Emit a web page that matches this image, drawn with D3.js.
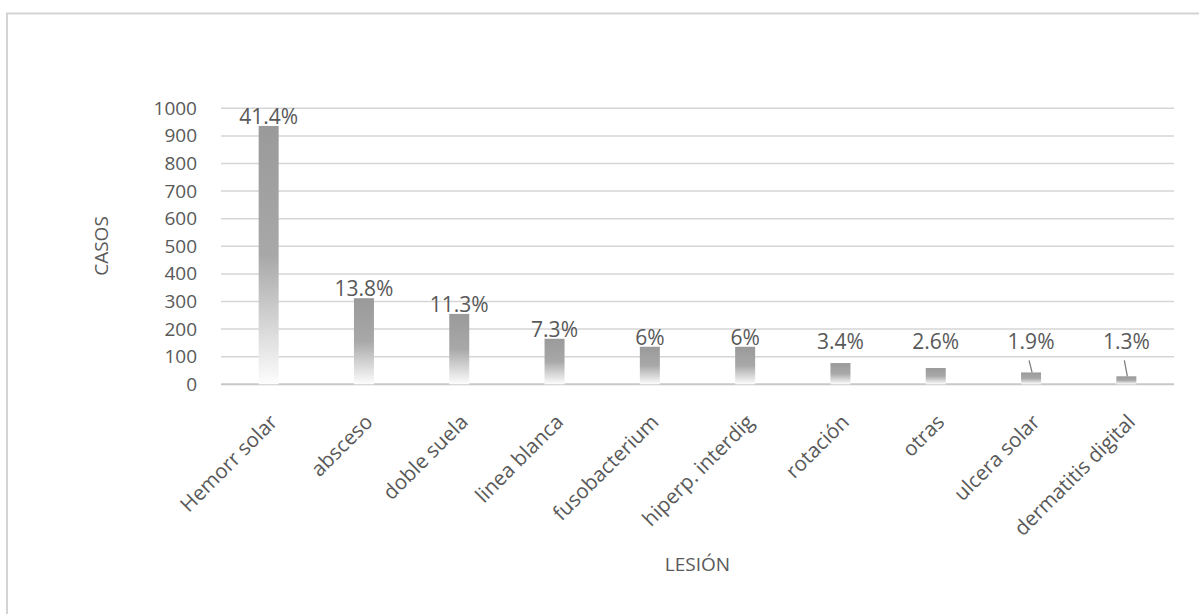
<!DOCTYPE html>
<html>
<head>
<meta charset="utf-8">
<script src="https://cdn.jsdelivr.net/npm/d3@7"></script>
<style>
  html, body { margin: 0; padding: 0; background: #fff; }
  svg { display: block; }
  text { font-family: "Open Sans", "DejaVu Sans", sans-serif; fill: #595959; }
</style>
</head>
<body>
<svg id="chart" width="1199" height="614"></svg>
<script>
// Lesiones podales: casos por tipo de lesión
const categories = ["Hemorr solar", "absceso", "doble suela", "linea blanca", "fusobacterium",
                    "hiperp. interdig", "rotación", "otras", "ulcera solar", "dermatitis digital"];
const casos = [936, 312, 255, 165, 136, 136, 77, 59, 43, 29];
const porcentajes = ["41.4%", "13.8%", "11.3%", "7.3%", "6%", "6%", "3.4%", "2.6%", "1.9%", "1.3%"];
const yTicks = [0, 100, 200, 300, 400, 500, 600, 700, 800, 900, 1000];

const svg = d3.select("#chart");

// chart area frame (top and left edges)
svg.append("path")
  .attr("d", "M7,614 V13.5 H1199")
  .attr("fill", "none")
  .attr("stroke", "#d4d4d4")
  .attr("stroke-width", 2);

const plot = { left: 221, right: 1174, top: 108.3, bottom: 384.3 };

const x = d3.scaleBand().domain(categories).range([plot.left, plot.right]).padding(0);
const y = d3.scaleLinear().domain([0, 1000]).range([plot.bottom, plot.top]);

// bar fill: grey fading to white toward the base
const defs = svg.append("defs");
const grad = defs.append("linearGradient")
  .attr("id", "barFade").attr("x1", 0).attr("y1", 0).attr("x2", 0).attr("y2", 1);
grad.append("stop").attr("offset", "0%").attr("stop-color", "#9a9a9a");
grad.append("stop").attr("offset", "50%").attr("stop-color", "#a8a8a8");
grad.append("stop").attr("offset", "100%").attr("stop-color", "#fdfdfd");

// gridlines
svg.append("g")
  .selectAll("line")
  .data(yTicks)
  .join("line")
  .attr("x1", plot.left).attr("x2", plot.right)
  .attr("y1", d => y(d)).attr("y2", d => y(d))
  .attr("stroke", d => d === 0 ? "#c8c8c8" : "#d6d6d6")
  .attr("stroke-width", d => d === 0 ? 2 : 1.5);

// y axis labels
const yAxis = d3.axisLeft(y).tickValues(yTicks).tickSize(0).tickPadding(0).tickFormat(d3.format("d"));
const gy = svg.append("g").attr("transform", `translate(${plot.left - 24},0)`).call(yAxis);
gy.select(".domain").remove();
gy.selectAll("text")
  .attr("font-size", 19)
  .attr("font-family", "'Open Sans', sans-serif")
  .attr("fill", "#595959");

// bars
const barW = 20;
svg.append("g")
  .selectAll("rect")
  .data(categories)
  .join("rect")
  .attr("x", d => x(d) + x.bandwidth() / 2 - barW / 2)
  .attr("width", barW)
  .attr("y", (d, i) => y(casos[i]))
  .attr("height", (d, i) => y(0) - y(casos[i]))
  .attr("fill", "url(#barFade)");

// percentage labels; small bars get their label lifted with a leader line
const labelFloor = y(0) - 35;
const labels = categories.map((c, i) => {
  const cx = x(c) + x.bandwidth() / 2;
  const top = y(casos[i]);
  const base = Math.min(top - 2, labelFloor);
  return { cx, top, base, text: porcentajes[i] };
});

svg.append("g")
  .selectAll("text")
  .data(labels)
  .join("text")
  .attr("x", d => d.cx)
  .attr("y", d => d.base)
  .attr("text-anchor", "middle")
  .attr("font-size", 21)
  .text(d => d.text);

svg.append("g")
  .selectAll("line")
  .data(labels.filter(d => d.top - d.base > 21))
  .join("line")
  .attr("x1", d => d.cx - 2).attr("y1", d => d.base + 11)
  .attr("x2", d => d.cx + 1).attr("y2", d => d.top)
  .attr("stroke", "#7f7f7f")
  .attr("stroke-width", 1.3);

// category labels, rotated
svg.append("g")
  .selectAll("text")
  .data(categories)
  .join("text")
  .attr("transform", d => `translate(${x(d) + x.bandwidth() / 2 + 10},${plot.bottom + 39}) rotate(-45)`)
  .attr("text-anchor", "end")
  .attr("font-size", 20.5)
  .text(d => d);

// axis titles
svg.append("text")
  .attr("transform", "translate(108,246) rotate(-90)")
  .attr("text-anchor", "middle")
  .attr("font-size", 19)
  .text("CASOS");

svg.append("text")
  .attr("x", (plot.left + plot.right) / 2)
  .attr("y", 571)
  .attr("text-anchor", "middle")
  .attr("font-size", 19)
  .text("LESIÓN");
</script>
</body>
</html>
